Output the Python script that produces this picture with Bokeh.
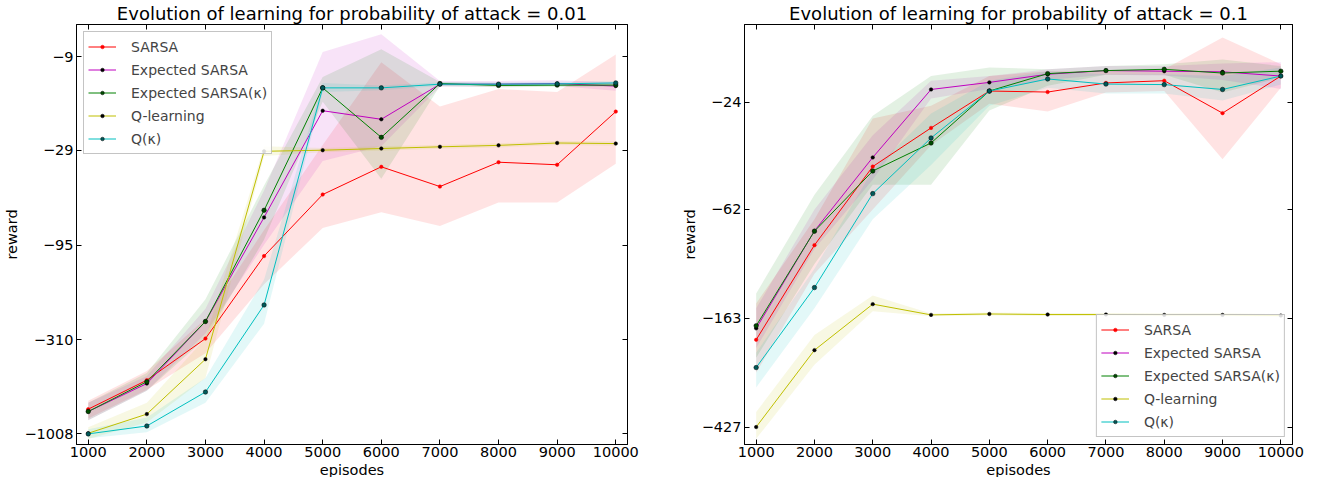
from bokeh.plotting import figure
from bokeh.models import (Range1d, FixedTicker, LinearAxis, LogAxis, Legend,
                          LegendItem, CustomJSTickFormatter, Title)
from bokeh.layouts import row
from bokeh.embed import file_html
from bokeh.resources import INLINE

episodes = [1000, 2000, 3000, 4000, 5000, 6000, 7000, 8000, 9000, 10000]
labels = ["SARSA", "Expected SARSA", "Expected SARSA(\u03ba)", "Q-learning", "Q(\u03ba)"]

# ---- probability of attack = 0.01 ----
sarsa_a = [-740, -515, -306, -109, -50.5, -35.7, -45.7, -33.7, -34.8, -17.9]
esarsa_a = [-762, -537, -247, -67.2, -17.7, -19.7, -12.7, -12.7, -12.6, -13.0]
esarsak_a = [-762, -525, -247, -61.5, -13.3, -24.7, -12.6, -12.9, -12.85, -12.85]
qlearn_a = [-1000, -787, -396, -29.4, -29.0, -28.4, -27.8, -27.3, -26.5, -26.7]
qk_a = [-1008, -913, -597, -201, -13.3, -13.3, -12.7, -12.7, -12.65, -12.5]

sarsa_a_lo = [-831, -580, -368, -155, -76.7, -63, -74.9, -55.7, -55.7, -34.4]
sarsa_a_hi = [-665, -459, -239, -78.6, -27.2, -9.65, -16.8, -13.5, -14.0, -8.75]
esarsa_a_lo = [-851, -587, -287, -94.7, -33.2, -27.6, -13.1, -13.1, -13.0, -13.8]
esarsa_a_hi = [-682, -489, -211, -48, -8.5, -6.8, -12.2, -12.2, -12.1, -12.4]
esarsak_a_lo = [-851, -587, -305, -89, -15.8, -41.4, -13.0, -13.2, -13.1, -13.1]
esarsak_a_hi = [-682, -470, -187, -45.1, -11.6, -8.2, -12.36, -12.5, -12.5, -12.5]
qlearn_a_lo = [-1076, -873, -501, -31.2, -29.8, -29.2, -28.5, -28.0, -27.2, -27.4]
qlearn_a_hi = [-928, -682, -305, -27.6, -28.2, -27.6, -27.1, -26.6, -25.8, -26.0]
qk_a_lo = [-1063, -987, -682, -254, -14.0, -13.7, -13.0, -13.0, -13.0, -12.8]
qk_a_hi = [-951, -820, -501, -146, -12.5, -12.9, -12.4, -12.4, -12.3, -12.2]

yticks_a = [-9, -29, -95, -310, -1008]

# ---- probability of attack = 0.1 ----
sarsa_b = [-197, -85.1, -42.4, -30.1, -21.7, -21.9, -20.2, -19.8, -26.4, -19.0]
esarsa_b = [-178, -75.0, -39.1, -21.4, -20.1, -18.7, -18.1, -18.2, -18.3, -19.0]
esarsak_b = [-174, -75.2, -44.1, -34.4, -21.7, -18.6, -18.1, -17.9, -18.5, -18.2]
qlearn_b = [-427, -216, -143.6, -158, -156.7, -157.5, -157.5, -158, -158, -159]
qk_b = [-252, -124, -53.9, -32.9, -21.7, -19.5, -20.4, -20.5, -21.4, -19.0]

sarsa_b_lo = [-264, -109.6, -62.0, -35.1, -24.3, -26.0, -22.0, -21.7, -39.7, -21.1]
sarsa_b_hi = [-142.7, -67.7, -27.7, -24.7, -19.0, -18.2, -18.2, -17.9, -13.5, -17.1]
esarsa_b_lo = [-212, -88.1, -47.7, -23.2, -21.3, -19.7, -18.8, -18.9, -19.7, -21.3]
esarsa_b_hi = [-149, -62.0, -32.1, -19.8, -19.0, -17.9, -17.4, -17.4, -17.0, -16.8]
esarsak_b_lo = [-231, -100.5, -49.8, -49.8, -25.8, -20.7, -18.8, -18.8, -22.0, -19.3]
esarsak_b_hi = [-130.7, -54.4, -27.0, -19.0, -17.6, -17.9, -17.4, -17.1, -16.4, -17.4]
qlearn_b_lo = [-474, -246, -153, -160, -159, -159.5, -159.5, -160, -160, -161]
qlearn_b_hi = [-374, -189, -133, -156, -154.5, -155.5, -155.5, -156, -156, -157]
qk_b_lo = [-300.6, -149, -67.7, -41.8, -24.7, -21.1, -22.2, -22.2, -23.6, -20.5]
qk_b_hi = [-221, -105, -43.7, -26.5, -19.8, -18.2, -18.7, -18.7, -19.0, -17.6]

yticks_b = [-24, -62, -163, -427]

x_label = "episodes"
y_label = "reward"

colors = ["#ff0000", "#bf00bf", "#008000", "#bfbf00", "#00bfbf"]
mfill = ["#ff0000", "#000000", "#004d00", "#000000", "#005a5a"]
mline = ["#ff0000", "#000000", "#000000", "#000000", "#000000"]
msize = [3.5, 3.5, 4.5, 3.5, 4.5]

FONT = "DejaVu Sans"


def mag(vals):
    return [-v for v in vals]


def panel(title, means, los, his, yticks, ybot, ytop, legend_loc, width,
          bl, br):
    p = figure(width=width, height=477, output_backend="svg",
               toolbar_location=None, y_axis_type="log",
               x_range=Range1d(800, 10200), y_range=Range1d(ybot, ytop),
               min_border_left=bl, min_border_right=br,
               min_border_top=0, min_border_bottom=0)
    p.grid.visible = False
    p.outline_line_color = "black"
    p.outline_line_width = 1
    p.background_fill_color = "white"
    p.title.text = title
    p.title.align = "center"
    p.title.text_font = FONT
    p.title.text_font_size = "18px"
    p.title.text_font_style = "normal"
    p.title.text_color = "black"
    p.title.standoff = 1

    for lo, hi, c in zip(los, his, colors):
        p.varea(x=episodes, y1=mag(lo), y2=mag(hi), fill_color=c,
                fill_alpha=0.11)

    items = []
    for m, c, lab, mf, ml, ms in zip(means, colors, labels, mfill, mline,
                                     msize):
        ln = p.line(episodes, mag(m), line_color=c, line_width=1)
        sc = p.scatter(episodes, mag(m), marker="circle", size=ms,
                       fill_color=mf, line_color=ml, line_width=0.5)
        items.append(LegendItem(label=lab, renderers=[ln, sc]))

    p.xaxis.ticker = FixedTicker(ticks=episodes)
    p.yaxis.ticker = FixedTicker(ticks=mag(yticks))
    p.yaxis.formatter = CustomJSTickFormatter(code="return '\u2212' + tick;")
    p.yaxis.axis_label = y_label

    top = LinearAxis(ticker=FixedTicker(ticks=episodes),
                     formatter=CustomJSTickFormatter(code="return '';"))
    right = LogAxis(ticker=FixedTicker(ticks=mag(yticks)),
                    formatter=CustomJSTickFormatter(code="return '';"))
    p.add_layout(top, "above")
    p.add_layout(right, "right")

    for ax in p.axis:
        ax.major_tick_in = 5
        ax.major_tick_out = 0
        ax.minor_tick_in = 0
        ax.minor_tick_out = 0
        ax.axis_line_color = "black"
        ax.major_tick_line_color = "black"
        ax.major_label_text_font = FONT
        ax.major_label_text_font_size = "14.5px"
        ax.major_label_text_color = "black"
        ax.major_label_standoff = 3
        ax.axis_label_text_font = FONT
        ax.axis_label_text_font_size = "14.5px"
        ax.axis_label_text_font_style = "normal"
        ax.axis_label_text_color = "black"
        ax.axis_label_standoff = 1
    p.xaxis.major_label_standoff = 2
    top.major_label_standoff = 0
    right.major_label_standoff = 0
    top.major_label_text_font_size = "1px"
    right.major_label_text_font_size = "1px"

    xt = Title(text=x_label, align="center", vertical_align="bottom",
               text_font=FONT, text_font_size="14.5px",
               text_font_style="normal", text_color="black", standoff=0)
    p.add_layout(xt, "below")

    leg = Legend(items=items, location=legend_loc)
    leg.label_text_font = FONT
    leg.label_text_font_size = "14px"
    leg.glyph_width = 28
    leg.glyph_height = 9
    leg.label_height = 21
    leg.spacing = 2
    leg.padding = 4
    leg.margin = 7
    leg.label_standoff = 15
    leg.border_line_color = "#8a8a8a"
    leg.border_line_width = 1
    leg.background_fill_color = "white"
    leg.background_fill_alpha = 0.85
    p.add_layout(leg)
    return p


p1 = panel("Evolution of learning for probability of attack = 0.01",
           [sarsa_a, esarsa_a, esarsak_a, qlearn_a, qk_a],
           [sarsa_a_lo, esarsa_a_lo, esarsak_a_lo, qlearn_a_lo, qk_a_lo],
           [sarsa_a_hi, esarsa_a_hi, esarsak_a_hi, qlearn_a_hi, qk_a_hi],
           yticks_a, 1151, 6.02, "top_left", 650, 76, 23)
p2 = panel("Evolution of learning for probability of attack = 0.1",
           [sarsa_b, esarsa_b, esarsak_b, qlearn_b, qk_b],
           [sarsa_b_lo, esarsa_b_lo, esarsak_b_lo, qlearn_b_lo, qk_b_lo],
           [sarsa_b_hi, esarsa_b_hi, esarsak_b_hi, qlearn_b_hi, qk_b_hi],
           yticks_b, 498.6, 12.03, "bottom_right", 655, 94, 13)

layout = row(p1, p2)
open("out.html", "w").write(file_html(layout, INLINE))
